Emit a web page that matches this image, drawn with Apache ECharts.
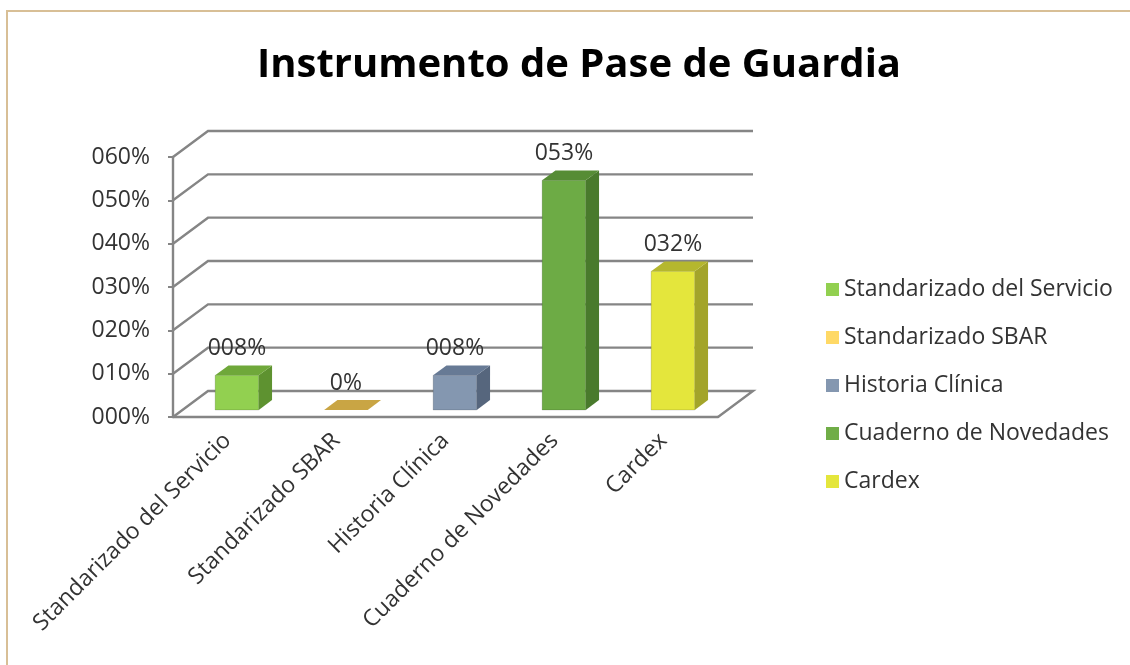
<!DOCTYPE html>
<html>
<head>
<meta charset="utf-8">
<title>Instrumento de Pase de Guardia</title>
<script src="https://cdn.jsdelivr.net/npm/echarts@6/dist/echarts.min.js"></script>
<style>
    body { margin: 0; background: #fff; }
    #wrap { position: relative; width: 1130px; height: 665px; overflow: hidden; }
    #frame { position: absolute; left: 6px; top: 10px; right: -4px; bottom: -4px;
             border-top: 2px solid #D8BF96; border-left: 2px solid #D8BF96; pointer-events: none; }
    #main { position: absolute; left: 0; top: 0; width: 1130px; height: 665px; }
</style>
</head>
<body>
<div id="wrap">
    <div id="main"></div>
    <div id="frame"></div>
</div>
<script>
// datos del grafico
var categorias = ['Standarizado del Servicio', 'Standarizado SBAR', 'Historia Clínica', 'Cuaderno de Novedades', 'Cardex'];
var valores = [0.08, 0, 0.08, 0.53, 0.32];
var marcasY = [0, 0.1, 0.2, 0.3, 0.4, 0.5, 0.6];

// colores: frente, lado, techo
var colores = [
    ['#92D050', '#5E9230', '#6FA83A'],
    ['#C9A544', '#A8872E', '#C9A544'],
    ['#8497B0', '#56667D', '#677A95'],
    ['#6DAB45', '#497A2C', '#568C35'],
    ['#E4E63C', '#A3A42A', '#B5B72E']
];
var coloresLeyenda = ['#92D050', '#FFD966', '#8497B0', '#70AD47', '#E4E63C'];

var FUENTE = 'Open Sans';
var PROF = [35, -26];     // profundidad del piso / pared
var FRENTE = 0.27;        // inicio de la barra en profundidad
var FONDO = 0.65;         // fin de la barra en profundidad

function pct3(v) {
    return ('00' + Math.round(v * 100)).slice(-3) + '%';
}

var myChart = echarts.init(document.getElementById('main'));

// paredes y lineas de division en 3D
var serieGrilla = {
    type: 'custom',
    silent: true,
    z: 1,
    data: marcasY.map(function (v) { return [0, v]; }),
    renderItem: function (params, api) {
        var cs = params.coordSys;
        var y = api.coord([0, api.value(1)])[1];
        var x0 = cs.x, x1 = cs.x + cs.width;
        var pts = [[x0, y], [x0 + PROF[0], y + PROF[1]], [x1 + PROF[0], y + PROF[1]]];
        if (api.value(1) === 0) {
            pts.push([x1, y]);
        }
        return {
            type: 'polyline',
            shape: { points: pts },
            style: { stroke: '#858585', lineWidth: 2.4, fill: null }
        };
    }
};

function serieBarra(i) {
    var c = colores[i];
    return {
        name: categorias[i],
        type: 'custom',
        z: 3,
        itemStyle: { color: coloresLeyenda[i] },
        data: [[i, valores[i]]],
        renderItem: function (params, api) {
            var idx = api.value(0), v = api.value(1);
            var base = api.coord([idx, 0]);
            var top = api.coord([idx, v]);
            var ancho = api.size([1, 0])[0] * 0.4;
            var fx = PROF[0] * FRENTE, fy = PROF[1] * FRENTE;
            var dx = PROF[0] * (FONDO - FRENTE), dy = PROF[1] * (FONDO - FRENTE);
            var L = base[0] + fx - ancho / 2, R = base[0] + fx + ancho / 2;
            var yb = base[1] + fy, yt = top[1] + fy;
            var hijos = [];
            if (v > 0) {
                hijos.push({
                    type: 'polygon',
                    shape: { points: [[L, yt], [R, yt], [R, yb], [L, yb]] },
                    style: { fill: c[0], stroke: 'rgba(0,0,0,0.15)', lineWidth: 1 }
                });
                hijos.push({
                    type: 'polygon',
                    shape: { points: [[R, yt], [R + dx, yt + dy], [R + dx, yb + dy], [R, yb]] },
                    style: { fill: c[1] }
                });
            }
            hijos.push({
                type: 'polygon',
                shape: { points: [[L, yt], [L + dx, yt + dy], [R + dx, yt + dy], [R, yt]] },
                style: { fill: c[2] }
            });
            hijos.push({
                type: 'text',
                style: {
                    text: v === 0 ? '0%' : pct3(v),
                    x: base[0] + fx,
                    y: yt + dy - 17,
                    align: 'center',
                    verticalAlign: 'middle',
                    fontFamily: FUENTE,
                    fontSize: 23,
                    fill: '#333'
                }
            });
            return { type: 'group', children: hijos };
        }
    };
}

var series = [serieGrilla];
for (var i = 0; i < categorias.length; i++) {
    series.push(serieBarra(i));
}

var option = {
    animation: false,
    title: {
        text: 'Instrumento de Pase de Guardia',
        left: 574,
        textAlign: 'center',
        top: 41,
        textStyle: { fontFamily: FUENTE, fontWeight: 'bold', fontSize: 40, color: '#000' }
    },
    legend: {
        data: categorias,
        orient: 'vertical',
        left: 821,
        top: 273,
        icon: 'rect',
        itemWidth: 13,
        itemHeight: 13,
        itemGap: 25,
        textStyle: { fontFamily: FUENTE, fontSize: 23, color: '#333' }
    },
    grid: { left: 173, right: 412, top: 157, bottom: 248 },
    xAxis: {
        type: 'category',
        data: categorias,
        axisLine: { lineStyle: { color: '#858585', width: 2.4 } },
        axisTick: { length: 7, lineStyle: { color: '#858585', width: 2 } },
        axisLabel: { rotate: 45, margin: 20, fontFamily: FUENTE, fontSize: 23, color: '#333' }
    },
    yAxis: {
        type: 'value',
        min: 0,
        max: 0.6,
        interval: 0.1,
        axisLine: { show: true, lineStyle: { color: '#858585', width: 2.4 } },
        axisTick: { show: true, length: 5, lineStyle: { color: '#858585', width: 2 } },
        splitLine: { show: false },
        axisLabel: { margin: 23, fontFamily: FUENTE, fontSize: 23, color: '#333', formatter: pct3 }
    },
    series: series
};
myChart.setOption(option);
</script>
</body>
</html>
